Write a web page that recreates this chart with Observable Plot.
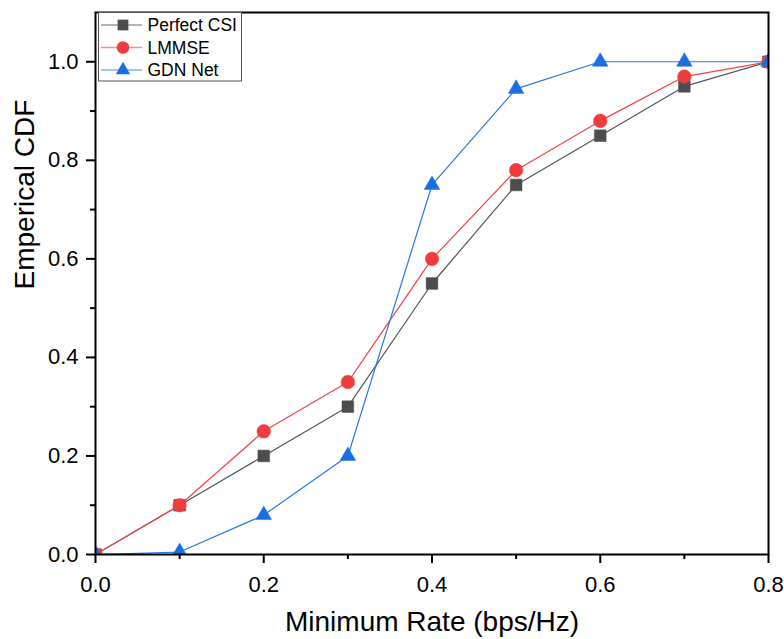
<!DOCTYPE html>
<html><head><meta charset="utf-8">
<script src="https://cdn.jsdelivr.net/npm/d3@7"></script>
<script src="https://cdn.jsdelivr.net/npm/@observablehq/plot@0.6"></script>
<style>
body{margin:0;background:#fff}
#chart{position:relative;width:784px;height:639px}
</style>
</head><body><div id="chart"></div>
<script>
// ---- data ----
const rates = [0, 0.1, 0.2, 0.3, 0.4, 0.5, 0.6, 0.7, 0.8];
const perfectCSI = [0, 0.1, 0.2, 0.3, 0.55, 0.75, 0.85, 0.95, 1.0];
const lmmse = [0, 0.1, 0.25, 0.35, 0.6, 0.78, 0.88, 0.97, 1.0];
const gdnNet = [0, 0.005, 0.08, 0.2, 0.75, 0.945, 1.0, 1.0, 1.0];
const seriesNames = ["Perfect CSI", "LMMSE", "GDN Net"];
const xMajorTicks = [0, 0.2, 0.4, 0.6, 0.8];
const xMinorTicks = [0.1, 0.3, 0.5, 0.7];
const yMajorTicks = [0, 0.2, 0.4, 0.6, 0.8, 1.0];
const yMinorTicks = [0.1, 0.3, 0.5, 0.7, 0.9];
const xLabel = "Minimum Rate (bps/Hz)";
const yLabel = "Emperical CDF";

// ---- styles ----
const styles = [
  {symbol: "square", fill: "#4d4d4d", line: "#555555", r: 6.6},
  {symbol: "circle", fill: "#f03c3c", line: "#f04545", r: 6.8},
  {symbol: "triangle", fill: "#1a6fe0", line: "#2a78e4", r: 5.8}
];
const valuesList = [perfectCSI, lmmse, gdnNet];
const tables = valuesList.map((vals, i) => rates.map((x, j) => ({x, y: vals[j], series: seriesNames[i]})));

const marks = [];
tables.forEach((t, i) => {
  const s = styles[i];
  marks.push(Plot.line(t, {x: "x", y: "y", stroke: s.line, strokeWidth: 1.2, clip: true}));
  marks.push(Plot.dot(t, {x: "x", y: "y", symbol: () => s.symbol, fill: s.fill, stroke: s.fill, strokeWidth: 0.5, r: s.r, clip: true}));
});

const fmt = d3.format(".1f");
const plot = Plot.plot({
  width: 784, height: 639,
  marginLeft: 95, marginRight: 16, marginTop: 12, marginBottom: 85,
  style: {fontFamily: "'Liberation Sans', Arial, sans-serif", fontSize: "22px", color: "black", background: "white"},
  x: {domain: [0, 0.8]},
  y: {domain: [0, 1.1]},
  symbol: {type: "identity"},
  marks: [
    ...marks,
    Plot.frame({stroke: "black", strokeWidth: 2}),
    Plot.axisX(xMajorTicks, {tickSize: 9, tickPadding: 13, tickFormat: fmt, fontSize: 22, strokeWidth: 2, label: null}),
    Plot.axisX(xMinorTicks, {tickSize: 5, tickFormat: () => "", strokeWidth: 2, label: null}),
    Plot.axisY(yMajorTicks, {tickSize: 9, tickPadding: 8, tickFormat: fmt, fontSize: 22, strokeWidth: 2, label: null}),
    Plot.axisY(yMinorTicks, {tickSize: 5, tickFormat: () => "", strokeWidth: 2, label: null}),
    Plot.text([xLabel], {frameAnchor: "bottom", text: d => d, dy: 76, fontSize: 28, fill: "black"}),
    Plot.text([yLabel], {frameAnchor: "left", text: d => d, dx: -70, dy: 6, rotate: -90, fontSize: 28, fill: "black"})
  ]
});
const chart = document.getElementById("chart");
chart.appendChild(plot);

// ---- legend overlay ----
const leg = d3.select(chart).append("svg")
  .attr("width", 784).attr("height", 639)
  .style("position", "absolute").style("left", "0px").style("top", "0px")
  .style("pointer-events", "none");
leg.append("rect").attr("x", 98.5).attr("y", 12.5).attr("width", 143).attr("height", 68.5)
  .attr("fill", "white").attr("stroke", "#555").attr("stroke-width", 1);
const symMap = {square: d3.symbolSquare, circle: d3.symbolCircle, triangle: d3.symbolTriangle};
seriesNames.forEach((name, i) => {
  const s = styles[i];
  const cy = 25 + i * 22.5;
  leg.append("line").attr("x1", 101).attr("x2", 142).attr("y1", cy).attr("y2", cy)
    .attr("stroke", s.line).attr("stroke-width", 1.6).attr("stroke-opacity", 0.6);
  leg.append("path").attr("d", d3.symbol(symMap[s.symbol], Math.PI * s.r * s.r * 0.85)())
    .attr("transform", `translate(123,${cy})`).attr("fill", s.fill);
  leg.append("text").attr("x", 147.5).attr("y", cy + 6.2).text(name)
    .attr("font-family", "'Liberation Sans', Arial, sans-serif").attr("font-size", 17.5).attr("fill", "black");
});
</script>
</body></html>
